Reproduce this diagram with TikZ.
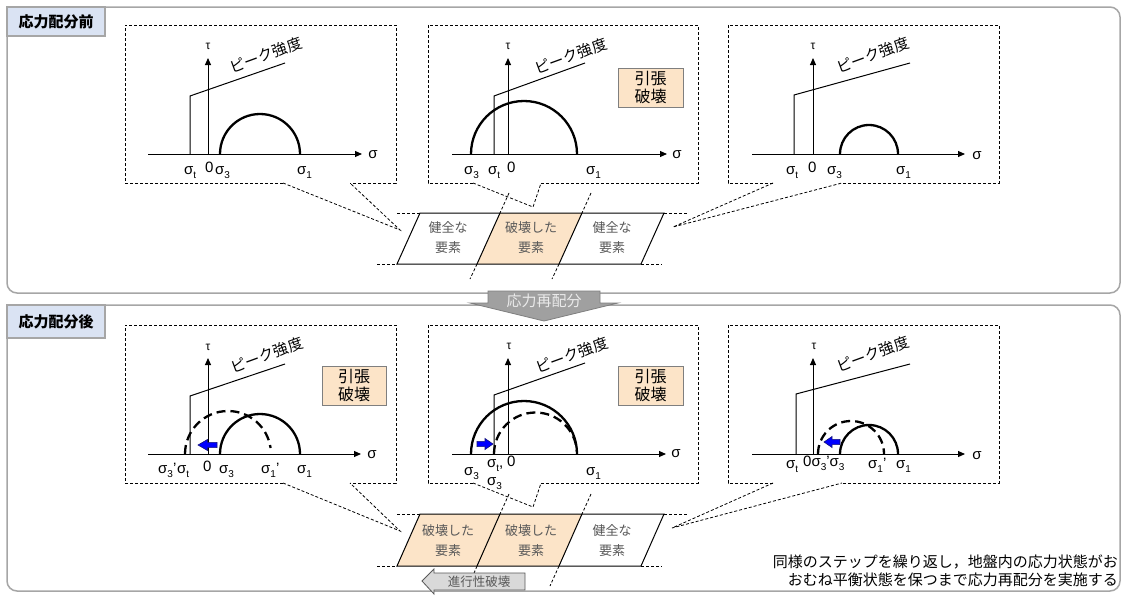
\documentclass[tikz,border=0pt]{standalone}
\usepackage{fontspec}
\setmainfont{Liberation Sans}
\newfontfamily\jp{Noto Sans CJK JP}
\usetikzlibrary{arrows.meta}
\definecolor{peach}{RGB}{252,228,200}
\definecolor{lblue}{RGB}{218,227,243}
\definecolor{bord}{RGB}{166,166,166}
\definecolor{txtgray}{RGB}{89,89,89}
\definecolor{boxedge}{RGB}{127,127,127}
\definecolor{arrgray}{RGB}{160,160,160}
\definecolor{arrtxt}{RGB}{235,235,235}
\definecolor{lgray}{RGB}{217,217,217}
\definecolor{navyb}{RGB}{20,20,120}
\newcommand\fs[1]{\fontsize{#1}{#1}\selectfont}
\newcommand\sg[1]{σ\raisebox{-0.28em}{\fs{10}#1}}
\newcommand\blarrow[3]{%
  \filldraw[fill=blue,draw=navyb,line width=0.6pt]
   (#2,#3-2.6) -- ({#1+0.5*(#2-#1)},#3-2.6) -- ({#1+0.5*(#2-#1)},#3-5.5) -- (#1,#3)
   -- ({#1+0.5*(#2-#1)},#3+5.5) -- ({#1+0.5*(#2-#1)},#3+2.6) -- (#2,#3+2.6) -- cycle;}
\tikzset{
 pbox/.style={line width=0.8pt, dash pattern=on 3pt off 2pt},
 ext/.style={line width=0.8pt, dash pattern=on 3pt off 2pt},
 axisline/.style={line width=1pt, -{Triangle[length=7pt,width=6pt]}},
 thinl/.style={line width=1pt},
 mohr/.style={line width=2.3pt},
 mohrd/.style={line width=2.3pt, dash pattern=on 9pt off 5pt},
 lbl/.style={inner sep=0pt, anchor=base west, font=\fs{15}},
 taul/.style={inner sep=0pt, font=\fs{12}},
 peakl/.style={inner sep=0pt, font=\jp\fs{15}, rotate=20},
 elt/.style={align=center, text=txtgray, inner sep=0pt, font=\jp\fontsize{13}{20}\selectfont},
 fbox/.style={draw=boxedge, fill=peach, line width=0.8pt},
 fboxt/.style={align=center, inner sep=0pt, font=\jp\fontsize{16}{18}\selectfont},
 secbox/.style={draw=bord, line width=1.5pt},
 sectxt/.style={inner sep=0pt, font=\jp\bfseries\fs{15}},
}
\begin{document}
\begin{tikzpicture}[x=1pt,y=-1pt]
\useasboundingbox (0,0) rectangle (1126,597);
\fill[white] (0,0) rectangle (1126,597);

% ---------- section frames ----------
\draw[secbox, rounded corners=10pt] (7,7) rectangle (1120,293);
\draw[secbox, rounded corners=10pt] (7,305) rectangle (1120,591);
\draw[secbox, fill=lblue] (7,7) rectangle (105,36);
\node[sectxt] (secA) at (56,21.5) {応力配分前};
\draw[secbox, fill=lblue] (7,305) rectangle (105,338);
\node[sectxt] (secB) at (56,321.5) {応力配分後};

% ================= TOP =================
\draw[pbox] (283,183) -- (125,183) -- (125,25) -- (396,25) -- (396,183) -- (350,183);
\draw[pbox] (283,183) -- (400,230) -- (350,183);
\draw[pbox] (473,183) -- (428,183) -- (428,25) -- (698,25) -- (698,183) -- (541,183);
\draw[pbox] (473,183) -- (533,207) -- (541,183);
\draw[pbox] (773,183) -- (728,183) -- (728,25) -- (999,25) -- (999,183) -- (842,183);
\draw[pbox] (773,183) -- (673,227) -- (842,183);

% panel 1
\draw[axisline] (148,154) -- (362,154);
\draw[axisline] (208,154) -- (208,58);
\node[taul] (ta1) at (208,46) {τ};
\node[inner sep=0pt,font=\fs{15}] (sa1) at (373,155) {σ};
\draw[thinl] (190,154) -- (190,96) -- (285,63);
\node[peakl] (pk1) at (266,55) {ピーク強度};
\draw[mohr] (220,154) arc[start angle=180,end angle=360,radius=40];
\node[lbl] (l11) at (184,174) {\sg{t}};
\node[lbl] (l12) at (205,172) {0};
\node[lbl] (l13) at (215,174) {\sg{3}};
\node[lbl] (l14) at (297,174) {\sg{1}};

% panel 2
\draw[axisline] (452,154) -- (667,154);
\draw[axisline] (508,154) -- (508,58);
\node[taul] (ta2) at (508,46) {τ};
\node[inner sep=0pt,font=\fs{15}] (sa2) at (677,155) {σ};
\draw[thinl] (494,154) -- (494,96) -- (585,63);
\node[peakl] (pk2) at (571,56) {ピーク強度};
\draw[mohr] (471,154) arc[start angle=180,end angle=360,radius=53];
\node[lbl] (l21) at (464,174) {\sg{3}};
\node[lbl] (l22) at (488,174) {\sg{t}};
\node[lbl] (l23) at (507,172) {0};
\node[lbl] (l24) at (586,174) {\sg{1}};
\draw[fbox] (618,68) rectangle (683,107);
\node[fboxt] (fb1) at (650.5,87.5) {引張\\破壊};

% panel 3
\draw[axisline] (752,154) -- (965,154);
\draw[axisline] (813,154) -- (813,58);
\node[taul] (ta3) at (813,46) {τ};
\node[inner sep=0pt,font=\fs{15}] (sa3) at (977,156) {σ};
\draw[thinl] (794,154) -- (794,95) -- (910,63);
\node[peakl] (pk3) at (873,55) {ピーク強度};
\draw[mohr] (840,154) arc[start angle=180,end angle=360,radius=29];
\node[lbl] (l31) at (786,174) {\sg{t}};
\node[lbl] (l32) at (808,172) {0};
\node[lbl] (l33) at (827,174) {\sg{3}};
\node[lbl] (l34) at (896,174) {\sg{1}};

% strip top
\fill[peach] (500,213) -- (582,213) -- (559,264) -- (477,264) -- cycle;
\draw[thinl] (397,264) -- (420,213) -- (664,213) -- (641,264) -- cycle;
\draw[thinl] (500,213) -- (477,264);
\draw[thinl] (582,213) -- (559,264);
\draw[ext] (397,213) -- (420,213);
\draw[ext] (664,213) -- (687,213);
\draw[ext] (377,264) -- (397,264);
\draw[ext] (641,264) -- (662,264);
\draw[ext] (509,193) -- (500,213);
\draw[ext] (477,264) -- (470,279);
\draw[ext] (591,193) -- (582,213);
\draw[ext] (559,264) -- (552,279);
\node[elt] (e1) at (448,238) {健全な\\要素};
\node[elt] (e2) at (531,238) {破壊した\\要素};
\node[elt] (e3) at (612,238) {健全な\\要素};

% redistribution arrow
\filldraw[fill=arrgray, draw=boxedge, line width=0.8pt]
  (488,291) -- (600,291) -- (600,303) -- (618,303) -- (544,321) -- (470,303) -- (488,303) -- cycle;
\node[inner sep=0pt, text=arrtxt, font=\jp\fs{15}] (redis) at (544,301) {応力再配分};

% ================= BOTTOM =================
\draw[pbox] (283,483) -- (125,483) -- (125,325) -- (396,325) -- (396,483) -- (350,483);
\draw[pbox] (283,483) -- (400,531) -- (350,483);
\draw[pbox] (473,483) -- (428,483) -- (428,325) -- (698,325) -- (698,483) -- (541,483);
\draw[pbox] (473,483) -- (533,507) -- (541,483);
\draw[pbox] (773,483) -- (728,483) -- (728,325) -- (999,325) -- (999,483) -- (842,483);
\draw[pbox] (773,483) -- (672,528) -- (842,483);

% panel 1
\draw[axisline] (148,454) -- (361,454);
\draw[axisline] (208,454) -- (208,358);
\node[taul] (tb1) at (208,347) {τ};
\node[inner sep=0pt,font=\fs{15}] (sb1) at (372,455) {σ};
\draw[thinl] (190,454) -- (190,396) -- (285,364);
\node[peakl] (pb1) at (267,355) {ピーク強度};
\draw[mohrd] (185,454) arc[start angle=180,end angle=352,radius=43];
\draw[mohr] (220,454) arc[start angle=180,end angle=360,radius=40];
\blarrow{198}{217}{445}
\node[lbl] (m11) at (158,473) {\sg{3}'};
\node[lbl] (m12) at (177,473) {\sg{t}};
\node[lbl] (m13) at (203,471) {0};
\node[lbl] (m14) at (219,473) {\sg{3}};
\node[lbl] (m15) at (261,473) {\sg{1}'};
\node[lbl] (m16) at (297,473) {\sg{1}};
\draw[fbox] (322,366) rectangle (386,405);
\node[fboxt] (fb2) at (354,385.5) {引張\\破壊};

% panel 2
\draw[axisline] (452,454) -- (666,454);
\draw[axisline] (508,454) -- (508,358);
\node[taul] (tb2) at (509,346) {τ};
\node[inner sep=0pt,font=\fs{15}] (sb2) at (676,454) {σ};
\draw[thinl] (494,454) -- (494,395) -- (585,363);
\node[peakl] (pb2) at (572,355) {ピーク強度};
\draw[mohrd] (494,454) arc[start angle=180,end angle=356,radius=41.5];
\draw[mohr] (471,454) arc[start angle=180,end angle=360,radius=53];
\blarrow{493}{477}{444}
\node[lbl] (m21) at (464,475) {\sg{3}};
\node[lbl] (m22) at (487,467) {\sg{t},};
\node[lbl] (m23) at (507,466) {0};
\node[lbl] (m24) at (487,485) {\sg{3}};
\node[lbl] (m25) at (586,475) {\sg{1}};
\draw[fbox] (618,366) rectangle (683,405);
\node[fboxt] (fb3) at (650.5,385.5) {引張\\破壊};

% panel 3
\draw[axisline] (752,454) -- (965,454);
\draw[axisline] (813,454) -- (813,358);
\node[taul] (tb3) at (814,346) {τ};
\node[inner sep=0pt,font=\fs{15}] (sb3) at (977,456) {σ};
\draw[thinl] (796,454) -- (796,394) -- (910,364);
\node[peakl] (pb3) at (873,354) {ピーク強度};
\draw[mohrd] (818,454) arc[start angle=180,end angle=360,radius=33];
\draw[mohr] (840,454) arc[start angle=180,end angle=360,radius=29];
\blarrow{824}{840}{442}
\node[lbl] (m31) at (786,468) {\sg{t}};
\node[lbl] (m32) at (803,466) {0\sg{3}'\sg{3}};
\node[lbl] (m35) at (868,468) {\sg{1}'};
\node[lbl] (m36) at (896,468) {\sg{1}};

% strip bottom
\fill[peach] (420,514) -- (582,514) -- (559,566) -- (397,566) -- cycle;
\draw[thinl] (397,566) -- (420,514) -- (664,514) -- (641,566) -- cycle;
\draw[thinl] (500,514) -- (477,566);
\draw[thinl] (582,514) -- (559,566);
\draw[ext] (397,514) -- (420,514);
\draw[ext] (664,514) -- (687,514);
\draw[ext] (377,566) -- (397,566);
\draw[ext] (641,566) -- (662,566);
\draw[ext] (509,494) -- (500,514);
\draw[ext] (477,566) -- (472,578);
\draw[ext] (591,494) -- (582,514);
\draw[ext] (559,566) -- (550,586);
\node[elt] (f1) at (448,541) {破壊した\\要素};
\node[elt] (f2) at (531,541) {破壊した\\要素};
\node[elt] (f3) at (612,541) {健全な\\要素};

% progressive failure arrow
\filldraw[fill=lgray, draw=txtgray, line width=0.8pt]
  (422,581) -- (434,569) -- (434,573) -- (525,573) -- (525,590) -- (434,590) -- (434,594) -- cycle;
\node[inner sep=0pt, text=txtgray, font=\jp\fs{12.5}] (prog) at (479,581.5) {進行性破壊};

% note
\node[inner sep=0pt, anchor=east, align=right, font=\jp\fontsize{15}{18}\selectfont] (note) at (1118,571)
  {同様のステップを繰り返し，地盤内の応力状態がお\\おむね平衡状態を保つまで応力再配分を実施する};
\end{tikzpicture}
\end{document}
